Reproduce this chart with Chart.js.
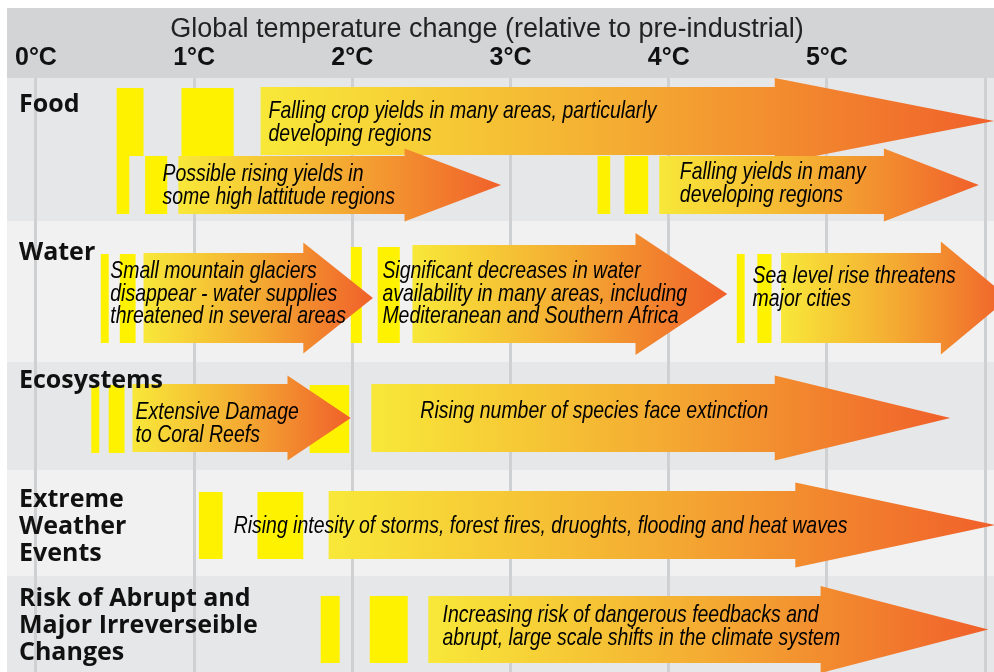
<!DOCTYPE html>
<html>
<head>
<meta charset="utf-8">
<script src="https://cdn.jsdelivr.net/npm/chart.js@4.4.1/dist/chart.umd.min.js"></script>
<style>
    html, body { margin: 0; padding: 0; background: #fff; }
    #wrap { width: 994px; height: 672px; position: relative; }
</style>
</head>
<body>
<div id="wrap"><canvas id="myChart"></canvas></div>
<script>
// rows (categories), each label split in lines
const rowNames = [
    ['Food'],
    ['Water'],
    ['Ecosystems'],
    ['Extreme', 'Weather', 'Events'],
    ['Risk of Abrupt and', 'Major Irreverseible', 'Changes'],
];

// temperature ticks (°C)
const tickTemps = [0, 1, 2, 3, 4, 5];

// impact arrows: row, start, where the head starts, tip, text start (°C)
const arrowRow = [0, 0, 0, 1, 1, 1, 2, 2, 3, 4];
const arrowFrom = [1.42, 0.90, 3.94, 0.68, 2.38, 4.71, 0.61, 2.12, 1.85, 2.48];
const arrowHeadAt = [4.67, 2.33, 5.36, 1.69, 3.79, 5.72, 1.59, 4.67, 4.80, 4.96];
const arrowTo = [6.06, 2.94, 5.96, 2.13, 4.37, 6.15, 1.99, 5.78, 6.06, 6.02];
const arrowTextAt = [1.47, 0.80, 4.07, 0.47, 2.19, 4.53, 0.63, 2.43, 1.25, 2.57];
const arrowText = [
    ['Falling crop yields in many areas, particularly', 'developing regions'],
    ['Possible rising yields in', 'some high lattitude regions'],
    ['Falling yields in many', 'developing regions'],
    ['Small mountain glaciers', 'disappear - water supplies', 'threatened in several areas'],
    ['Significant decreases in water', 'availability in many areas, including', 'Mediteranean and Southern Africa'],
    ['Sea level rise threatens', 'major cities'],
    ['Extensive Damage', 'to Coral Reefs'],
    ['Rising number of species face extinction'],
    ['Rising intesity of storms, forest fires, druoghts, flooding and heat waves'],
    ['Increasing risk of dangerous feedbacks and', 'abrupt, large scale shifts in the climate system'],
];

// yellow markers: row, from, to (°C)
const barRow = [0, 0, 0, 0, 0, 0, 1, 1, 1, 1, 1, 1, 2, 2, 2, 3, 3, 4, 4];
const barFrom = [0.51, 0.92, 0.51, 0.69, 3.55, 3.72, 0.41, 0.53, 1.99, 2.16, 4.43, 4.56, 0.35, 0.46, 1.73, 1.03, 1.40, 1.80, 2.11];
const barTo = [0.68, 1.25, 0.59, 0.83, 3.63, 3.87, 0.46, 0.63, 2.06, 2.30, 4.48, 4.65, 0.40, 0.56, 1.98, 1.18, 1.69, 1.92, 2.35];

// ---- layout (vertical lane axis, reversed, 0 = top of rows) ----
const rowEdges = [0, 1.43, 2.84, 3.92, 4.98, 5.94];
const rowLabelY = [0.34, 1.82, 3.10, 4.29, 5.28];
const arrowMid = [0.43, 1.07, 1.07, 2.20, 2.16, 2.20, 3.40, 3.40, 4.47, 5.515];
const arrowBodyHalf = [0.34, 0.29, 0.29, 0.45, 0.49, 0.45, 0.34, 0.34, 0.34, 0.335];
const arrowHeadHalf = [0.43, 0.365, 0.365, 0.555, 0.61, 0.565, 0.425, 0.425, 0.425, 0.435];
const arrowTextY = [0.40, 1.03, 1.01, 2.00, 2.00, 2.05, 3.41, 3.40, 4.55, 5.44];
const barTop = [0.10, 0.10, 0.78, 0.78, 0.78, 0.78, 1.76, 1.76, 1.69, 1.69, 1.76, 1.76, 3.07, 3.07, 3.07, 4.14, 4.14, 5.18, 5.18];
const barBottom = [0.78, 0.78, 1.36, 1.36, 1.36, 1.36, 2.65, 2.65, 2.65, 2.65, 2.65, 2.65, 3.75, 3.75, 3.75, 4.81, 4.81, 5.85, 5.85];

const textFont = 'italic 24px "Liberation Sans", Arial, sans-serif';
const textSqueeze = 0.81;
const textLine = 22.5;
const rowFont = 'bold 25px "Open Sans", sans-serif';
const rowLine = 27;

function squeezedText(ctx, str, x, y) {
    ctx.save();
    ctx.translate(x, y);
    ctx.scale(textSqueeze, 1);
    ctx.fillText(str, 0, 0);
    ctx.restore();
}

const infographic = {
    id: 'infographic',
    beforeDraw(chart) {
        const {ctx, chartArea, scales: {y}} = chart;
        const w = chartArea.right - chartArea.left;
        ctx.save();
        ctx.fillStyle = '#d3d4d6';
        ctx.fillRect(chartArea.left, 8, w, chartArea.top - 8);
        for (let i = 0; i < rowNames.length; i++) {
            const top = y.getPixelForValue(rowEdges[i]);
            const bottom = y.getPixelForValue(rowEdges[i + 1]);
            ctx.fillStyle = i % 2 ? '#f1f1f2' : '#e6e7e8';
            ctx.fillRect(chartArea.left, top, w, bottom - top);
        }
        ctx.restore();
    },
    afterDatasetsDraw(chart) {
        const {ctx, chartArea, scales: {x, y}} = chart;
        ctx.save();

        // yellow markers
        ctx.fillStyle = '#fff200';
        barFrom.forEach((v, i) => {
            const x0 = x.getPixelForValue(v), x1 = x.getPixelForValue(barTo[i]);
            const y0 = y.getPixelForValue(barTop[i]), y1 = y.getPixelForValue(barBottom[i]);
            ctx.fillRect(x0, y0, x1 - x0, y1 - y0);
        });

        // arrows
        arrowFrom.forEach((v, i) => {
            const x0 = x.getPixelForValue(v);
            const xh = x.getPixelForValue(arrowHeadAt[i]);
            const x1 = x.getPixelForValue(arrowTo[i]);
            const yc = y.getPixelForValue(arrowMid[i]);
            const bh = y.getPixelForValue(arrowMid[i] + arrowBodyHalf[i]) - yc;
            const hh = y.getPixelForValue(arrowMid[i] + arrowHeadHalf[i]) - yc;
            const g = ctx.createLinearGradient(x0, 0, x1, 0);
            g.addColorStop(0, '#f8e839');
            g.addColorStop(0.5, '#f4ab32');
            g.addColorStop(1, '#f0602a');
            ctx.fillStyle = g;
            ctx.beginPath();
            ctx.moveTo(x0, yc - bh);
            ctx.lineTo(xh, yc - bh);
            ctx.lineTo(xh, yc - hh);
            ctx.lineTo(x1, yc);
            ctx.lineTo(xh, yc + hh);
            ctx.lineTo(xh, yc + bh);
            ctx.lineTo(x0, yc + bh);
            ctx.closePath();
            ctx.fill();
        });

        // arrow texts
        ctx.fillStyle = '#000';
        ctx.font = textFont;
        ctx.textBaseline = 'alphabetic';
        ctx.textAlign = 'left';
        arrowText.forEach((lines, i) => {
            const tx = x.getPixelForValue(arrowTextAt[i]);
            const ty = y.getPixelForValue(arrowTextY[i]);
            lines.forEach((s, k) => squeezedText(ctx, s, tx, ty + k * textLine));
        });

        // row labels
        ctx.font = rowFont;
        ctx.fillStyle = '#111';
        rowNames.forEach((lines, i) => {
            const ty = y.getPixelForValue(rowLabelY[i]);
            lines.forEach((s, k) => ctx.fillText(s, chartArea.left + 12, ty + k * rowLine));
        });
        ctx.restore();
    }
};

const config = {
    type: 'scatter',
    data: {
        datasets: []
    },
    options: {
        responsive: true,
        maintainAspectRatio: false,
        animation: false,
        layout: {
            padding: { left: 7, top: 0, right: 0, bottom: 0 }
        },
        plugins: {
            legend: { display: false },
            tooltip: { enabled: false }
        },
        scales: {
            x: {
                type: 'linear',
                position: 'top',
                min: -0.183,
                max: 6.056,
                border: { display: false },
                grid: {
                    color: '#cfd0d2',
                    lineWidth: 3,
                    drawTicks: false
                },
                ticks: {
                    stepSize: 1,
                    includeBounds: false,
                    autoSkip: false,
                    maxRotation: 0,
                    padding: 7,
                    color: '#111',
                    font: { family: '"Liberation Sans", Arial, sans-serif', weight: 'bold', size: 25, lineHeight: 1 },
                    callback: v => tickTemps.includes(v) ? v + '°C' : ''
                },
                title: {
                    display: true,
                    text: 'Global temperature change (relative to pre-industrial)\u2003',
                    color: '#222',
                    font: { family: '"Liberation Sans", Arial, sans-serif', size: 27, lineHeight: 1 },
                    padding: { top: 16, bottom: -4 }
                }
            },
            y: {
                type: 'linear',
                display: false,
                reverse: true,
                min: 0,
                max: 5.94
            }
        }
    },
    plugins: [infographic]
};

const myChart = new Chart(document.getElementById('myChart'), config);
</script>
</body>
</html>
